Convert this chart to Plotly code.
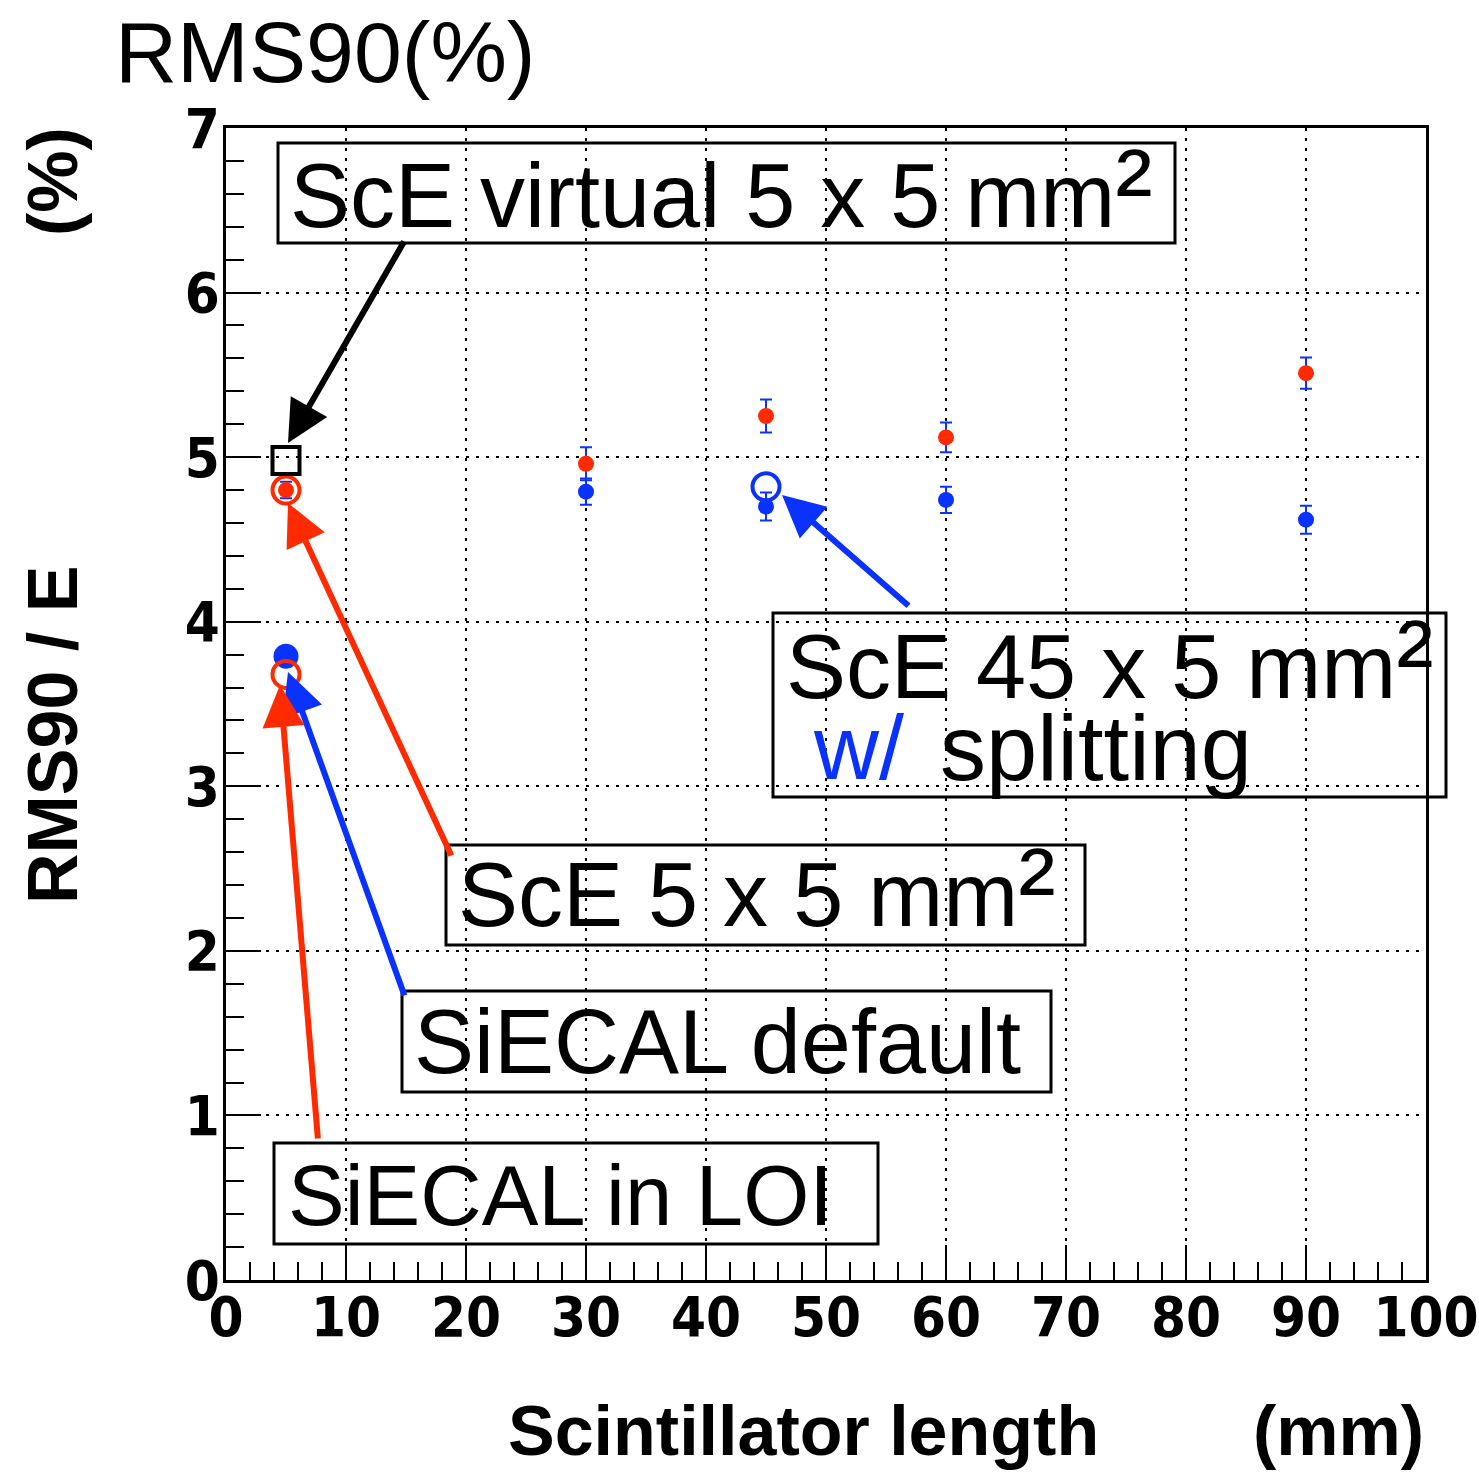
import plotly.graph_objects as go

# ---------------- data ----------------
length_mm = [30, 45, 60, 90]
sce_red_vals = [4.96, 5.25, 5.12, 5.51]
sce_red_err = [0.10, 0.10, 0.09, 0.095]
sce_blue_vals = [4.79, 4.70, 4.74, 4.62]
sce_blue_err = [0.08, 0.085, 0.08, 0.085]

ref_len = [5]
sce5_red_val = [4.80]
sce5_red_err = [0.05]
siecal_default_val = [3.79]
red_open_len = [5, 5]
red_open_vals = [4.80, 3.68]          # ScE 5x5 mm2, SiECAL in LOI
split_len = [45]
split_val = [4.82]                    # ScE 45x5 mm2 w/ splitting
virtual_len = [5]
virtual_val = [4.98]                  # ScE virtual 5x5 mm2

x_ticks = [0, 10, 20, 30, 40, 50, 60, 70, 80, 90, 100]
y_ticks = [0, 1, 2, 3, 4, 5, 6, 7]

RED = "#ff2a00"
BLUE = "#0a32ff"

# ---------------- layout geometry (pixels) ----------------
W, H = 1479, 1472
L, R, T, B = 226, 1426, 128, 1280


def px(x):
    return (x - L) / (R - L)


def py(y):
    return (B - y) / (B - T)


fig = go.Figure()

fig.add_trace(go.Scatter(x=ref_len, y=siecal_default_val, mode="markers",
                         marker=dict(color=BLUE, size=25), showlegend=False))
fig.add_trace(go.Scatter(x=length_mm, y=sce_blue_vals, mode="markers",
                         marker=dict(color=BLUE, size=16),
                         error_y=dict(type="data", array=sce_blue_err, color=BLUE,
                                      thickness=2, width=6),
                         showlegend=False))
fig.add_trace(go.Scatter(x=length_mm, y=sce_red_vals, mode="markers",
                         marker=dict(color=RED, size=16),
                         error_y=dict(type="data", array=sce_red_err, color=BLUE,
                                      thickness=2, width=6),
                         showlegend=False))
fig.add_trace(go.Scatter(x=ref_len, y=sce5_red_val, mode="markers",
                         marker=dict(color=RED, size=16),
                         error_y=dict(type="data", array=sce5_red_err, color=BLUE,
                                      thickness=2, width=6),
                         showlegend=False))
fig.add_trace(go.Scatter(x=red_open_len, y=red_open_vals, mode="markers",
                         marker=dict(symbol="circle-open", color=RED, size=27,
                                     line=dict(width=4, color=RED)),
                         showlegend=False))
fig.add_trace(go.Scatter(x=split_len, y=split_val, mode="markers",
                         marker=dict(symbol="circle-open", color=BLUE, size=27,
                                     line=dict(width=4, color=BLUE)),
                         showlegend=False))
fig.add_trace(go.Scatter(x=virtual_len, y=virtual_val, mode="markers",
                         marker=dict(symbol="square-open", color="black", size=27,
                                     line=dict(width=4, color="black")),
                         showlegend=False))

TICKFONT = dict(family="DejaVu Sans Condensed, Liberation Sans Narrow, Arial Narrow, sans-serif",
                size=56, color="black", weight="bold")

GRIDDASH = "3px,7px"

fig.update_xaxes(range=[0, 100], tickvals=x_ticks, ticktext=[str(v) for v in x_ticks],
                 ticks="inside", ticklen=35, tickwidth=2, tickcolor="black",
                 minor=dict(dtick=2, ticks="inside", ticklen=18, tickwidth=2,
                            tickcolor="black", showgrid=False),
                 showline=True, linewidth=3, linecolor="black", mirror=True,
                 showgrid=True, gridcolor="black", gridwidth=2, griddash=GRIDDASH,
                 zeroline=False, tickfont=TICKFONT, ticklabeloverflow="allow",
                 ticklabelstandoff=-14, automargin=False)
fig.update_yaxes(range=[0, 7], tickvals=y_ticks, ticktext=[str(v) for v in y_ticks],
                 ticks="inside", ticklen=35, tickwidth=2, tickcolor="black",
                 minor=dict(dtick=0.2, ticks="inside", ticklen=18, tickwidth=2,
                            tickcolor="black", showgrid=False),
                 showline=True, linewidth=3, linecolor="black", mirror=True,
                 showgrid=True, gridcolor="black", gridwidth=2, griddash=GRIDDASH,
                 zeroline=False, tickfont=TICKFONT, ticklabeloverflow="allow",
                 ticklabelstandoff=-8, automargin=False)

annotations = []
shapes = []

FAM = "Liberation Sans, Arial, Helvetica, sans-serif"
LABFONT = dict(family=FAM, size=70, color="black", weight="bold")

# title
annotations.append(dict(xref="paper", yref="paper", x=px(113), y=py(52), xanchor="left",
                        yanchor="middle", showarrow=False, text="RMS90(%)",
                        font=dict(family=FAM, size=86, color="black")))
# y-axis labels
annotations.append(dict(xref="paper", yref="paper", x=px(53), y=py(735), xanchor="center",
                        yanchor="middle", showarrow=False, text="RMS90 / E", textangle=-90,
                        font=LABFONT))
annotations.append(dict(xref="paper", yref="paper", x=px(53), y=py(182), xanchor="center",
                        yanchor="middle", showarrow=False, text="(%)", textangle=-90,
                        font=LABFONT))
# x-axis labels
annotations.append(dict(xref="paper", yref="paper", x=px(803), y=py(1431), xanchor="center",
                        yanchor="middle", showarrow=False, text="Scintillator length",
                        font=LABFONT))
annotations.append(dict(xref="paper", yref="paper", x=px(1338), y=py(1431), xanchor="center",
                        yanchor="middle", showarrow=False, text="(mm)", font=LABFONT))

# boxes: (x0, y0, x1, y1)
boxes = [(278, 143, 1175, 243), (773, 613, 1446, 797), (446, 845, 1085, 945),
         (402, 991, 1051, 1092), (274, 1143, 878, 1244)]
for (x0, y0, x1, y1) in boxes:
    shapes.append(dict(type="rect", xref="paper", yref="paper", x0=px(x0), x1=px(x1),
                       y0=py(y1), y1=py(y0), line=dict(color="black", width=3),
                       fillcolor="rgba(0,0,0,0)"))

SQ = "<span style='font-size:112px'>²</span>"
box_texts = [
    (288, 189, "ScE virtual 5 x 5 mm" + SQ, 90, "black"),
    (784, 659, "ScE 45 x 5 mm" + SQ, 90, "black"),
    (811, 748, "w/", 90, BLUE),
    (938, 748, "splitting", 92, "black"),
    (456, 887, "ScE 5 x 5 mm" + SQ, 90, "black"),
    (412, 1042, "SiECAL default", 90, "black"),
    (286, 1195, "SiECAL in LOI", 85, "black"),
]
for (x, y, t, s, c) in box_texts:
    annotations.append(dict(xref="paper", yref="paper", x=px(x), y=py(y), xanchor="left",
                            yanchor="middle", showarrow=False, text=t,
                            font=dict(family=FAM, size=s, color=c)))

# arrows: tail (px), tip (px), colour
arrows = [
    ((405, 240), (288, 443), "black"),
    ((452, 857), (288, 503), RED),
    ((405, 997), (288, 672), BLUE),
    ((318, 1140), (280, 685), RED),
    ((910, 607), (782, 495), BLUE),
]
for (tail, tip, col) in arrows:
    annotations.append(dict(xref="paper", yref="paper", x=px(tip[0]), y=py(tip[1]),
                            axref="pixel", ayref="pixel", ax=tail[0] - tip[0],
                            ay=tail[1] - tip[1], text="", showarrow=True, arrowhead=2,
                            arrowsize=1.4, arrowwidth=6, arrowcolor=col, standoff=0))

fig.update_layout(width=W, height=H, margin=dict(l=L, r=W - R, t=T, b=H - B),
                  paper_bgcolor="white", plot_bgcolor="white",
                  annotations=annotations, shapes=shapes, showlegend=False)

fig.write_html("out.html")
